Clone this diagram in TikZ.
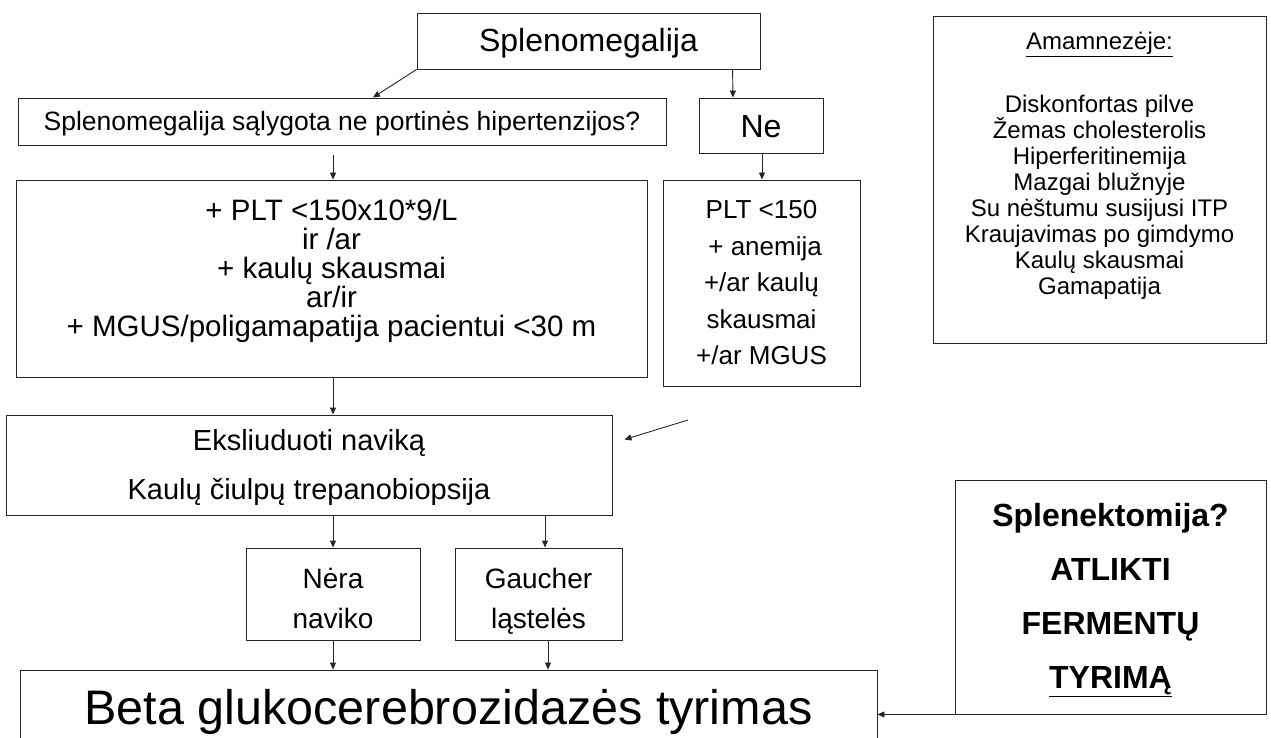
\documentclass[tikz,border=0pt]{standalone}
\usepackage{fontspec}
\setmainfont{Liberation Sans}
\usetikzlibrary{calc,arrows.meta}
\newcommand\fs[2]{\fontsize{#1}{#2}\selectfont\lineskiplimit=-50pt\lineskip=0pt\relax}
\tikzset{
  box/.style={draw=black!85, line width=0.9pt, inner sep=0pt, align=center, text=black},
  txt/.style={inner sep=0pt, align=center, text=black},
  arr/.style={draw=black!85, line width=0.9pt, -{Triangle[length=7pt,width=6pt]}}
}
\begin{document}
\begin{tikzpicture}[x=1pt,y=-1pt]
\clip (0,0) rectangle (1271,738);
\fill[white] (0,0) rectangle (1271,738);
% boxes
\node[box, minimum width=343pt, minimum height=56pt] (sp) at (588.5,41) {};
\node[box, minimum width=648pt, minimum height=47pt] (q) at (342,121.5) {};
\node[box, minimum width=124pt, minimum height=55pt] (ne) at (761,125.5) {};
\node[box, minimum width=631pt, minimum height=197pt] (big) at (331.5,278.5) {};
\node[box, minimum width=197pt, minimum height=206pt] (plt) at (761.5,283) {};
\node[box, minimum width=333pt, minimum height=327pt] (am) at (1099.5,179.5) {};
\node[box, minimum width=606pt, minimum height=100pt] (eks) at (309,465) {};
\node[box, minimum width=174pt, minimum height=92pt] (nera) at (333,594) {};
\node[box, minimum width=167pt, minimum height=92pt] (gau) at (538.5,594) {};
\node[box, minimum width=857pt, minimum height=90pt] (beta) at (448.5,715) {};
\node[box, minimum width=311pt, minimum height=234pt] (spl) at (1110.5,597) {};
% texts
\node[txt, font=\fs{32}{36}] (spt) at ($(sp)+(0,2)$) {Splenomegalija};
\node[txt, font=\fs{26.5}{30}] (qt) at ($(q)+(0,2)$) {Splenomegalija sąlygota ne portinės hipertenzijos?};
\node[txt, font=\fs{32}{36}] (net) at ($(ne)+(0,1)$) {Ne};
\node[txt, font=\fs{29.5}{29}] (bigt) at ($(big)+(0,-8)$) {+ PLT <150x10*9/L\\ir /ar\\+ kaulų skausmai\\ar/ir\\+ MGUS/poligamapatija pacientui <30 m};
\node[txt, font=\fs{26}{36.5}] (pltt) at ($(plt)+(0,0)$) {PLT <150\\\ + anemija\\+/ar kaulų\\skausmai\\+/ar MGUS};
\node[txt, anchor=base, font=\fs{24}{26}] (amt1) at ($(am.north)+(0,34)$) {\underline{Amamnezėje:}};
\node[txt, anchor=north, font=\fs{24}{26}] (amt2) at ($(am.north)+(0,79)$) {Diskonfortas pilve\\Žemas cholesterolis\\Hiperferitinemija\\Mazgai blužnyje\\Su nėštumu susijusi ITP\\Kraujavimas po gimdymo\\Kaulų skausmai\\Gamapatija};
\node[txt, font=\fs{29}{49}] (ekst) at ($(eks)+(0,3)$) {Eksliuduoti naviką\\Kaulų čiulpų trepanobiopsija};
\node[txt, anchor=base, font=\fs{28}{40}] (nerat1) at ($(nera.north)+(0,41)$) {Nėra};
\node[txt, anchor=base, font=\fs{28}{40}] (nerat2) at ($(nera.north)+(0,81)$) {naviko};
\node[txt, anchor=base, font=\fs{28}{40}] (gaut1) at ($(gau.north)+(0,41)$) {Gaucher};
\node[txt, anchor=base, font=\fs{28}{40}] (gaut2) at ($(gau.north)+(0,81)$) {ląstelės};
\node[txt, font=\fs{48.5}{56}] (betat) at ($(beta)+(0,-3)$) {Beta glukocerebrozidazės tyrimas};
\node[txt, font=\fs{32}{54}\bfseries] (splt) at ($(spl)+(0,3)$) {Splenektomija?\\ATLIKTI\\FERMENTŲ\\\underline{TYRIMĄ}};
% connectors
\draw[arr] (sp.south west) -- ($(q.north)+(31,0)$);
\draw[arr] ($(sp.south west)+(316,0)$) -- ($(ne.north)+(-28,0)$);
\draw[arr] ($(q.south)+(-9,10)$) -- ($(big.north)+(1.5,0)$);
\draw[arr] ($(ne.south)+(1,0)$) -- ($(plt.north)+(0.5,0)$);
\draw[arr] ($(big.south)+(1.5,0)$) -- ($(eks.north)+(24,0)$);
\coordinate (fl) at (688,420);
\draw[arr] (fl) -- ($(eks.north east)+(12,25)$);
\draw[arr] ($(eks.south)+(24,0)$) -- (nera.north);
\draw[arr] ($(eks.south)+(236,0)$) -- ($(gau.north)+(6.5,0)$);
\draw[arr] (nera.south) -- (nera.south |- beta.north);
\draw[arr] ($(gau.south)+(9.5,0)$) -- ($(gau.south |- beta.north)+(9.5,0)$);
\draw[arr] (spl.south west) -- (spl.south west -| beta.east);
\end{tikzpicture}
\end{document}
